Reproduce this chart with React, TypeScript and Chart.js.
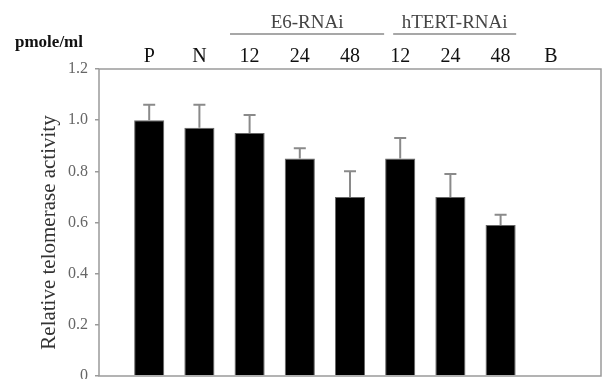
import { useEffect, useRef } from 'react';
import { Chart, registerables } from 'chart.js';

Chart.register(...registerables);

// ---- data ----
const categories = ['', 'P', 'N', '12', '24', '48', '12', '24', '48', 'B', ''];
const activity = [null, 1.0, 0.97, 0.95, 0.85, 0.7, 0.85, 0.7, 0.59, null, null];
const errorUp = [null, 0.06, 0.09, 0.07, 0.04, 0.1, 0.08, 0.09, 0.04, null, null];
const yMin = 0;
const yMax = 1.2;
const yStep = 0.2;
const groupLabels = ['E6-RNAi', 'hTERT-RNAi'];
const groupStart = [2.61, 5.86];
const groupEnd = [5.68, 8.31];
const unitLabel = 'pmole/ml';
const yTitle = 'Relative telomerase activity';

const SERIF = "'Liberation Serif', 'Times New Roman', serif";
const FRAME = '#9a9a9a';

const framePlugin = {
  id: 'frame',
  afterDraw(chart: any) {
    const { ctx, chartArea: a } = chart;
    ctx.save();
    ctx.strokeStyle = FRAME;
    ctx.lineWidth = 1.5;
    ctx.strokeRect(a.left, a.top, a.right - a.left, a.bottom - a.top);
    ctx.restore();
  },
};

const errorBarPlugin = {
  id: 'errorBars',
  afterDatasetsDraw(chart: any) {
    const { ctx } = chart;
    const meta = chart.getDatasetMeta(0);
    const yScale = chart.scales.y;
    ctx.save();
    ctx.strokeStyle = '#8a8a8a';
    ctx.lineWidth = 2;
    meta.data.forEach((bar: any, i: number) => {
      const v = activity[i];
      const e = errorUp[i];
      if (v == null || e == null) return;
      const yTop = yScale.getPixelForValue(v + e);
      const yBar = yScale.getPixelForValue(v);
      ctx.beginPath();
      ctx.moveTo(bar.x, yBar);
      ctx.lineTo(bar.x, yTop);
      ctx.moveTo(bar.x - 6, yTop);
      ctx.lineTo(bar.x + 6, yTop);
      ctx.stroke();
    });
    ctx.restore();
  },
};

const annotationPlugin = {
  id: 'annotations',
  afterDraw(chart: any) {
    const { ctx, chartArea: a } = chart;
    const xScale = chart.scales.x;
    ctx.save();
    // group labels with underline
    groupLabels.forEach((label, g) => {
      const x1 = xScale.getPixelForValue(groupStart[g]);
      const x2 = xScale.getPixelForValue(groupEnd[g]);
      ctx.strokeStyle = '#8a8a8a';
      ctx.lineWidth = 1.5;
      ctx.beginPath();
      ctx.moveTo(x1, 34);
      ctx.lineTo(x2, 34);
      ctx.stroke();
      ctx.fillStyle = '#444';
      ctx.font = `19px ${SERIF}`;
      ctx.textAlign = 'center';
      ctx.textBaseline = 'alphabetic';
      ctx.fillText(label, (x1 + x2) / 2, 28);
    });
    // unit label
    ctx.fillStyle = '#111';
    ctx.font = `bold 17px ${SERIF}`;
    ctx.textAlign = 'left';
    ctx.textBaseline = 'alphabetic';
    ctx.fillText(unitLabel, 15, 47);
    // y title
    ctx.translate(49, (a.top + a.bottom) / 2 + 10);
    ctx.rotate(-Math.PI / 2);
    ctx.fillStyle = '#333';
    ctx.font = `21px ${SERIF}`;
    ctx.textAlign = 'center';
    ctx.textBaseline = 'middle';
    ctx.fillText(yTitle, 0, 0);
    ctx.restore();
  },
};

export default function App() {
  const ref = useRef<HTMLCanvasElement | null>(null);

  useEffect(() => {
    if (!ref.current) return;
    const chart = new Chart(ref.current, {
      type: 'bar',
      data: {
        labels: categories,
        datasets: [
          {
            data: activity as any,
            backgroundColor: '#000',
            borderColor: '#666',
            borderWidth: 1,
            categoryPercentage: 1,
            barPercentage: 0.6,
          },
        ],
      },
      options: {
        responsive: false,
        animation: false,
        devicePixelRatio: 1,
        layout: { padding: { left: 0, right: 2, top: 0, bottom: 3 } },
        plugins: {
          legend: { display: false },
          tooltip: { enabled: false },
          title: { display: false },
        },
        scales: {
          x: {
            type: 'category',
            position: 'top',
            offset: false,
            grid: { display: false, drawTicks: false },
            border: { display: false },
            ticks: {
              autoSkip: false,
              maxRotation: 0,
              padding: 0,
              color: '#111',
              font: { family: SERIF, size: 20, lineHeight: 1.2 },
            },
            afterFit(scale: any) {
              scale.height = 69;
              scale.paddingLeft = 0;
              scale.paddingRight = 0;
            },
          },
          y: {
            min: yMin,
            max: yMax,
            grid: {
              display: true,
              drawOnChartArea: false,
              drawTicks: true,
              tickLength: 4,
              color: FRAME,
              lineWidth: 1.5,
            },
            border: { display: false },
            ticks: {
              stepSize: yStep,
              padding: 7,
              color: '#666',
              font: { family: SERIF, size: 16 },
              callback: (v: any) => (Number(v) === 0 ? '0' : Number(v).toFixed(1)),
            },
            afterFit(scale: any) {
              scale.width = 99;
              scale.paddingTop = 0;
              scale.paddingBottom = 0;
            },
          },
        },
      },
      plugins: [framePlugin, errorBarPlugin, annotationPlugin],
    });
    return () => chart.destroy();
  }, []);

  return (
    <div style={{ position: 'fixed', left: 0, top: 0, width: 603, height: 379, background: '#fff', overflow: 'hidden' }}>
      <canvas ref={ref} width={603} height={379} style={{ display: 'block', width: 603, height: 379 }} />
    </div>
  );
}
